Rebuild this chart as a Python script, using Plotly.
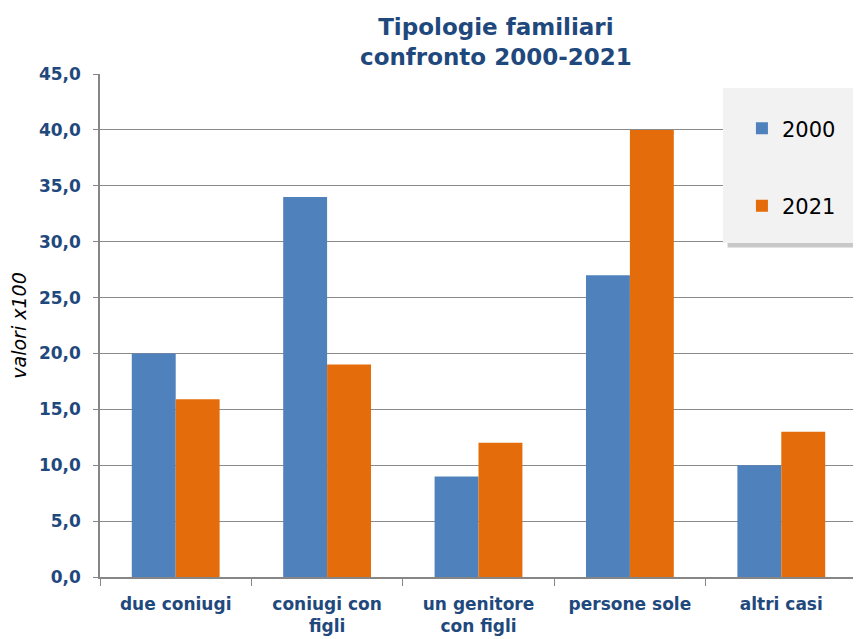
import plotly.graph_objects as go

categories = ["due coniugi", "coniugi con<br>figli", "un genitore<br>con figli", "persone sole", "altri casi"]
values_2000 = [20.0, 34.0, 9.0, 27.0, 10.0]
values_2021 = [15.9, 19.0, 12.0, 40.0, 13.0]
y_ticks = [0, 5, 10, 15, 20, 25, 30, 35, 40, 45]

BLUE = "#4F81BD"
ORANGE = "#E46C0A"
NAVY = "#1F497D"
FONT = "DejaVu Sans, Liberation Sans, Arial, sans-serif"

fig = go.Figure()
fig.add_trace(go.Bar(name="2000", x=categories, y=values_2000, marker=dict(color=BLUE, line=dict(width=0)), legendgroup="a"))
fig.add_trace(go.Bar(name="2021", x=categories, y=values_2021, marker=dict(color=ORANGE, line=dict(width=0)), legendgroup="b"))

# page body has an 8px margin, so the figure is drawn 8px smaller and offset
fig.update_layout(
    width=853, height=631,
    margin=dict(l=92, r=4, t=66, b=62, autoexpand=False),
    paper_bgcolor="white", plot_bgcolor="white",
    barmode="group", bargap=0.42, bargroupgap=0,
    separators=",.",
    font=dict(family=FONT, color=NAVY, size=17),
    showlegend=True,
    legend=dict(x=0.848, y=0.932, xanchor="left", yanchor="top",
                bgcolor="rgba(0,0,0,0)", font=dict(size=21, color="black", family=FONT),
                tracegroupgap=47, traceorder="grouped"),
    xaxis=dict(showline=True, linecolor="#868686", linewidth=1.5, automargin=False,
               ticks="outside", tickson="boundaries", ticklen=7, tickcolor="#868686",
               ticklabelstandoff=11,
               tickfont=dict(size=17, color=NAVY, family=FONT, weight="bold")),
    yaxis=dict(range=[0, 45], tickvals=y_ticks, tickformat=".1f", automargin=False,
               showline=True, linecolor="#868686", linewidth=1.5,
               ticks="outside", ticklen=5, tickcolor="#868686",
               ticklabelstandoff=9,
               showgrid=True, gridcolor="#8a8a8a", gridwidth=1.2, zeroline=False,
               tickfont=dict(size=17, color=NAVY, family=FONT, weight="bold"),
               title=dict(text="<i>valori x100</i>", font=dict(size=19, color="black", family=FONT), standoff=8)),
)

# legend box with shadow
fig.add_shape(type="rect", xref="paper", yref="paper", x0=0.829, x1=1.007, y0=0.655, y1=0.962,
              fillcolor="#c8c8c8", line=dict(width=0), layer="above")
fig.add_shape(type="rect", xref="paper", yref="paper", x0=0.823, x1=1.0, y0=0.664, y1=0.972,
              fillcolor="#f2f2f2", line=dict(width=0), layer="above")

fig.add_annotation(text="<b>Tipologie familiari<br>confronto 2000-2021</b>", xref="paper", yref="paper",
                   x=0.523, y=1.0, xanchor="center", yanchor="bottom", yshift=2, showarrow=False,
                   font=dict(size=23, color=NAVY, family=FONT))

fig.write_html("out.html")
